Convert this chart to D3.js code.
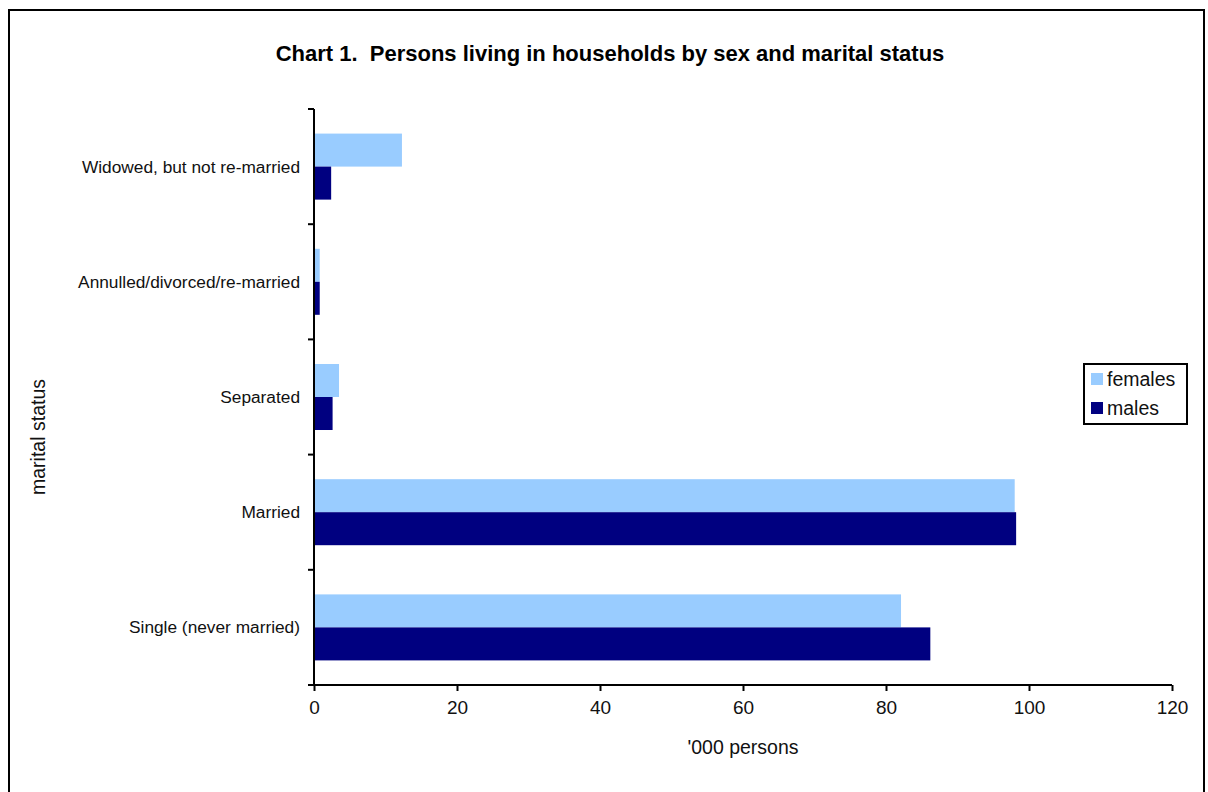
<!DOCTYPE html>
<html><head><meta charset="utf-8">
<script src="https://cdn.jsdelivr.net/npm/d3@7"></script>
<style>body{margin:0;background:#fff}svg{display:block;font-family:Arial,"Liberation Sans",sans-serif}</style>
</head><body><svg id="c" width="1208" height="792"></svg>
<script>
const categories = ["Widowed, but not re-married","Annulled/divorced/re-married","Separated","Married","Single (never married)"];
const seriesNames = ["females","males"];
const females = [12.3, 0.8, 3.5, 98.0, 82.1];
const males = [2.4, 0.8, 2.6, 98.2, 86.2];
const xTicks = [0,20,40,60,80,100,120];
const colors = {females:"#99CCFF", males:"#000080"};

const svg = d3.select("#c");
svg.append("rect").attr("x",9).attr("y",10).attr("width",1195).attr("height",800)
  .attr("fill","none").attr("stroke","#000").attr("stroke-width",2);

const L=314, R=1172, T=109, B=685;
const x = d3.scaleLinear().domain([0,120]).range([L,R]);
const y = d3.scaleBand().domain(categories).range([T,B]).paddingInner(0.427).paddingOuter(0.2135);
const ys = d3.scaleBand().domain(seriesNames).range([0,y.bandwidth()]);

const data = categories.map((c,i)=>({c, females:females[i], males:males[i]}));
const g = svg.append("g");
seriesNames.forEach(s=>{
  g.selectAll("rect."+s).data(data).enter().append("rect")
    .attr("x",x(0)).attr("y",d=>y(d.c)+ys(s))
    .attr("width",d=>x(d[s])-x(0)).attr("height",ys.bandwidth())
    .attr("fill",colors[s]);
});

// y axis line and ticks at category boundaries
const step = y.step();
svg.append("line").attr("x1",L).attr("x2",L).attr("y1",T).attr("y2",B).attr("stroke","#000").attr("stroke-width",2);
for(let i=0;i<=categories.length;i++){
  const yy = T + i*step;
  svg.append("line").attr("x1",L-6).attr("x2",L).attr("y1",yy).attr("y2",yy).attr("stroke","#000").attr("stroke-width",2);
}
svg.selectAll("text.cat").data(categories).enter().append("text")
  .attr("x",300).attr("y",d=>y(d)+y.bandwidth()/2).attr("dy","0.35em")
  .attr("text-anchor","end").attr("font-size",17.3).attr("fill","#111").text(d=>d);

// x axis
const xa = svg.append("g").attr("transform",`translate(0,${B})`)
  .call(d3.axisBottom(x).tickValues(xTicks).tickSize(6).tickSizeOuter(0).tickPadding(10));
xa.select(".domain").attr("stroke-width",2).attr("d",`M${L-6},0H${R}`);
xa.selectAll(".tick line").attr("stroke-width",2);
xa.selectAll(".tick text").attr("font-size",19).attr("fill","#111").attr("font-family","Arial, Liberation Sans, sans-serif");

svg.append("text").attr("x",610).attr("y",61).attr("text-anchor","middle").style("white-space","pre")
  .attr("font-size",22).attr("font-weight","bold").text("Chart 1.  Persons living in households by sex and marital status");
svg.append("text").attr("x",743).attr("y",754).attr("text-anchor","middle")
  .attr("font-size",19.5).attr("fill","#111").text("'000 persons");
svg.append("text").attr("transform","translate(45,437) rotate(-90)").attr("text-anchor","middle")
  .attr("font-size",19.5).attr("fill","#111").text("marital status");

// legend
const lg = svg.append("g");
lg.append("rect").attr("x",1084).attr("y",364).attr("width",103).attr("height",60)
  .attr("fill","#fff").attr("stroke","#000").attr("stroke-width",2);
seriesNames.forEach((s,i)=>{
  lg.append("rect").attr("x",1091).attr("y",373+i*29).attr("width",12).attr("height",12).attr("fill",colors[s]);
  lg.append("text").attr("x",1107).attr("y",379+i*29).attr("dy","0.35em").attr("font-size",19.5).attr("fill","#111").text(s);
});
</script></body></html>
